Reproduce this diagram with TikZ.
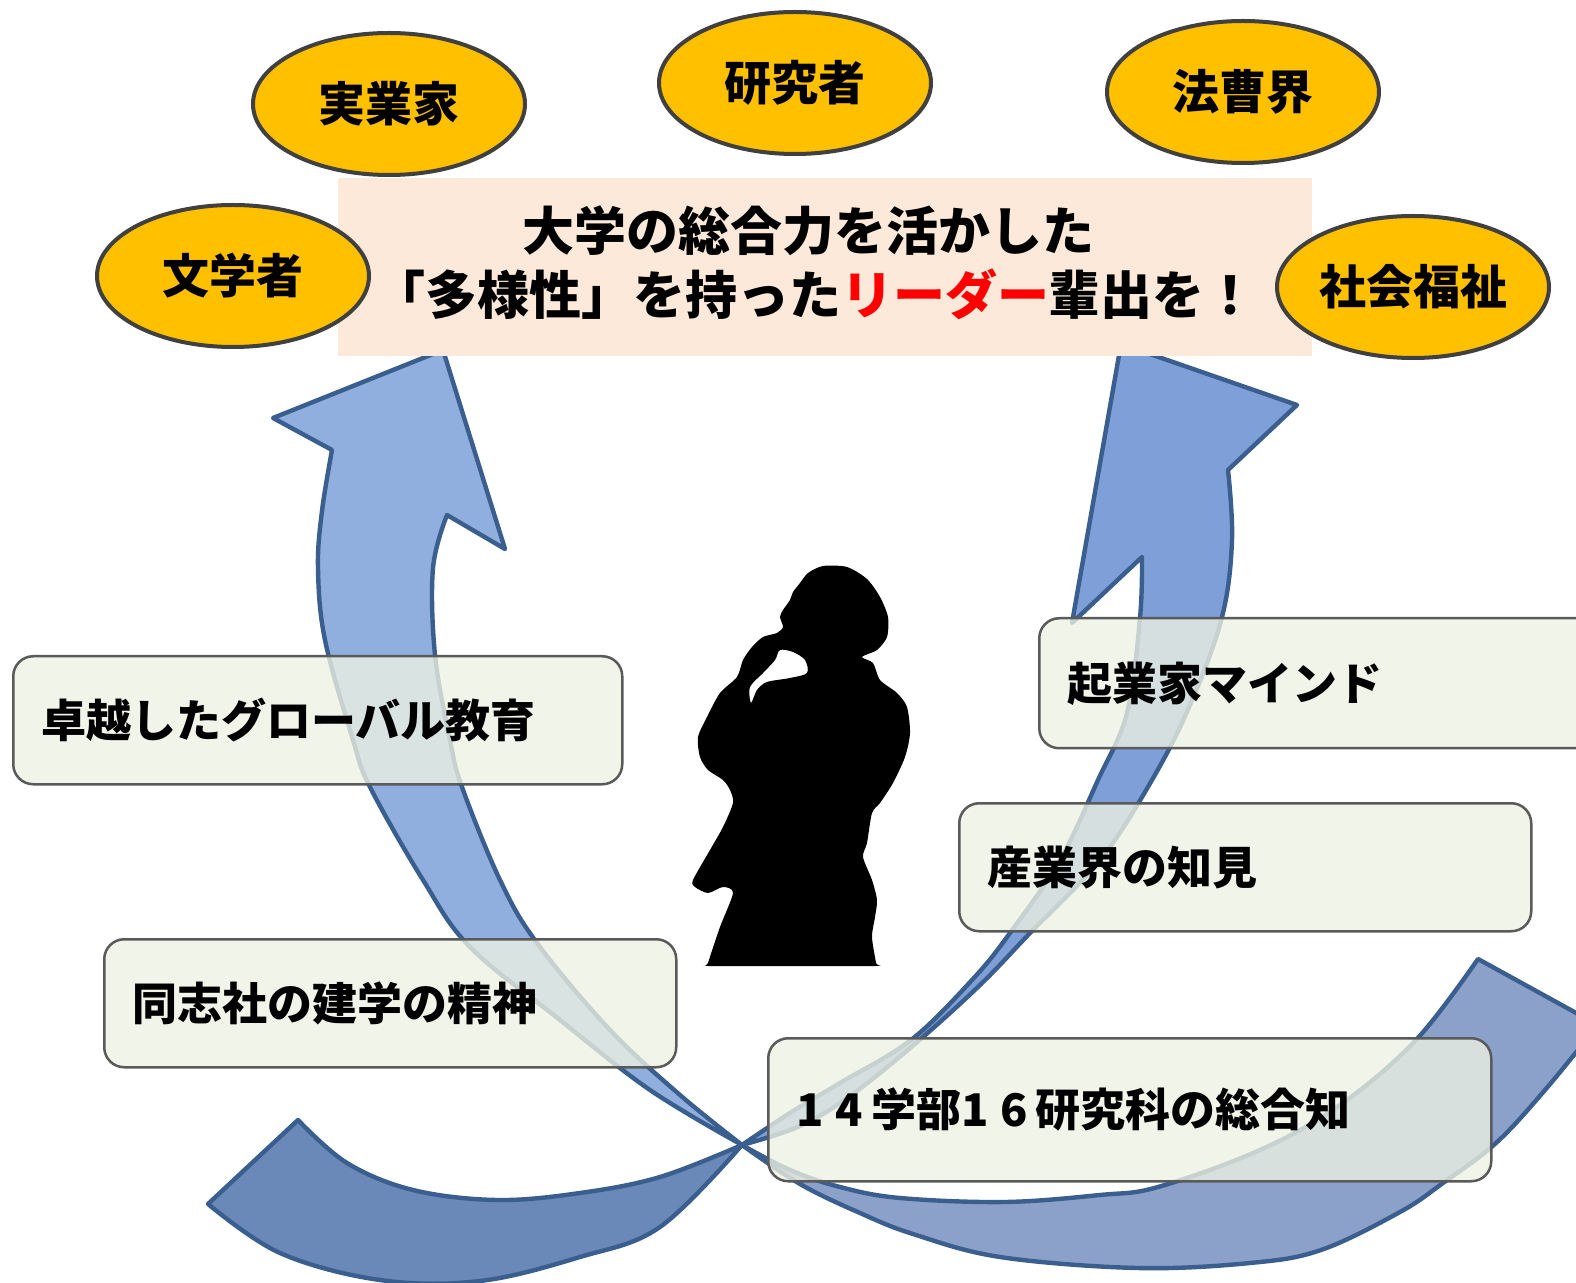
\documentclass[tikz,border=0pt]{standalone}
\usepackage{fontspec}
\newfontfamily\jp{Noto Sans CJK JP}
\usetikzlibrary{shapes.geometric}
\definecolor{arrowedge}{HTML}{3A5F8E}
\definecolor{lightL}{HTML}{90AEDE}
\definecolor{lightR}{HTML}{7E9FD8}
\definecolor{darkL}{HTML}{8CA1CA}
\definecolor{darkR}{HTML}{6A88B8}
\definecolor{boxfill}{HTML}{EEF2E3}
\definecolor{boxedge}{HTML}{5A5A5A}
\definecolor{ovalfill}{HTML}{FFC000}
\definecolor{ovaledge}{HTML}{404040}
\definecolor{titlefill}{HTML}{FDE9D9}
\definecolor{leadred}{HTML}{FF0000}
\begin{document}
\begin{tikzpicture}[x=0.5pt,y=-0.5pt,
  arrowline/.style={draw=arrowedge, line width=2.2pt, line join=round},
  infobox/.style={draw=boxedge, fill=boxfill, fill opacity=0.78, text opacity=1,
    rounded corners=10pt, line width=1.25pt, anchor=north west,
    inner xsep=14pt, inner ysep=0pt, align=left,
    font=\jp\bfseries\fontsize{22.5}{22.5}\selectfont},
  oval/.style={ellipse, draw=ovaledge, line width=2pt, fill=ovalfill,
    minimum width=136pt, minimum height=71pt, inner sep=0pt,
    font=\jp\bfseries\fontsize{23.5}{23.5}\selectfont},
  headline/.style={inner sep=0pt, font=\jp\bfseries\fontsize{26}{26}\selectfont}]
\useasboundingbox (0,0) rectangle (1576,1283);
\clip (0,0) rectangle (1576,1283);
\fill[white] (0,0) rectangle (1576,1283);

% dark tail of the right-hand arrow (bottom left)
\filldraw[arrowline, fill=darkR]
  plot[smooth, tension=0.6] coordinates {(742,1145) (660,1177) (580,1193) (497,1200) (413,1190) (347,1163) (298,1120)}
  -- (208,1204)
  -- plot[smooth, tension=0.6] coordinates {(208,1204) (280,1253) (380,1280) (480,1281) (580,1257) (660,1227) (742,1145)}
  -- cycle;

% dark tail of the left-hand arrow (bottom right)
\filldraw[arrowline, fill=darkL]
  plot[smooth, tension=0.6] coordinates {(742,1145) (790,1170) (840,1187) (900,1198) (1005,1202) (1100,1195) (1158,1187) (1260,1150) (1340,1105) (1416,1040) (1478,959)}
  -- (1598,1025)
  -- plot[smooth, tension=0.6] coordinates {(1598,1025) (1545,1090) (1496,1143) (1443,1183) (1400,1212) (1321,1250) (1250,1263) (1137,1268) (1000,1257) (913,1234) (860,1213) (800,1184) (742,1145)}
  -- cycle;

% left-hand arrow: shaft and head
\filldraw[arrowline, fill=lightL]
  plot[smooth, tension=0.6] coordinates {(742,1145) (680,1095) (610,1030) (537,943) (500,880) (462,787) (450,740) (435,655) (433,568) (447,515)}
  -- (505,549) -- (443,350) -- (273,418) -- (332,450)
  -- plot[smooth, tension=0.6] coordinates {(332,450) (322,511) (318,568) (325,640) (353,740) (370,787) (423,880) (470,947) (560,1020) (650,1090) (742,1145)}
  -- cycle;

% right-hand arrow: shaft and head
\filldraw[arrowline, fill=lightR]
  plot[smooth, tension=0.6] coordinates {(742,1145) (800,1126) (850,1096) (916,1043) (980,985) (1030,933) (1100,860) (1152,780) (1190,705) (1222,617) (1232,540) (1228,470)}
  -- (1297,405) -- (1121,344) -- (1072,623) -- (1142,557)
  -- plot[smooth, tension=0.6] coordinates {(1142,557) (1140,618) (1127,713) (1098,780) (1060,860) (1010,933) (972,980) (911,1040) (840,1083) (790,1113) (742,1145)}
  -- cycle;

% thinking figure
\fill[black, even odd rule]
  plot[smooth cycle, tension=0.45] coordinates {(808,573) (823,566) (847,567) (867,579) (880,597) (888,617) (887,637) (877,650) (862,657) (873,663) (880,680) (897,693) (907,707) (910,733) (905,757) (893,783) (880,803) (872,813) (867,843) (863,857) (872,880) (877,900) (875,917) (872,937) (876,963) (876,966) (790,966) (708,966) (708,963) (720,927) (733,893) (723,887) (708,893) (695,887) (693,880) (710,850) (723,827) (733,803) (730,790) (723,780) (708,770) (700,757) (698,737) (707,717) (720,693) (737,677) (743,660) (752,647) (763,637) (777,633) (783,627) (780,617) (783,610) (790,600) (793,592) (800,583)}
  plot[smooth cycle, tension=0.5] coordinates {(751,703) (750,687) (763,673) (775,660) (780,650) (793,652) (805,660) (807,673) (790,678) (767,682) (757,690)};

% statement boxes
\node[infobox, minimum width=304.5pt, minimum height=64pt, text width=276.5pt] (global) at (12,655) {卓越したグローバル教育};
\node[infobox, minimum width=286pt, minimum height=64pt, text width=258pt] (spirit) at (103,938) {同志社の建学の精神};
\node[infobox, minimum width=278.5pt, minimum height=65pt, text width=250.5pt] (mind) at (1038,617) {起業家マインド};
\node[infobox, minimum width=286pt, minimum height=64pt, text width=258pt] (industry) at (958,802) {産業界の知見};
\node[infobox, minimum width=361.5pt, minimum height=71.5pt, text width=333.5pt] (faculty) at (767,1037) {1\kern6pt4\kern4pt学部1\kern6pt6\kern4pt研究科の総合知};

% headline panel
\node[fill=titlefill, minimum width=487pt, minimum height=89pt, inner sep=0pt, anchor=north west] (panel) at (338,178) {};
\node[headline] (line1) at (808,231) {大学の総合力を活かした};
\node[headline] (line2) at (815,294) {「多様性」を持った\textcolor{leadred}{リーダー}輩出を！};

% career ovals
\node[oval] (business) at (389,104) {実業家};
\node[oval] (research) at (795,83) {研究者};
\node[oval] (law) at (1243,92) {法曹界};
\node[oval] (letters) at (233,276) {文学者};
\node[oval] (welfare) at (1413,287) {社会福祉};
\end{tikzpicture}
\end{document}
